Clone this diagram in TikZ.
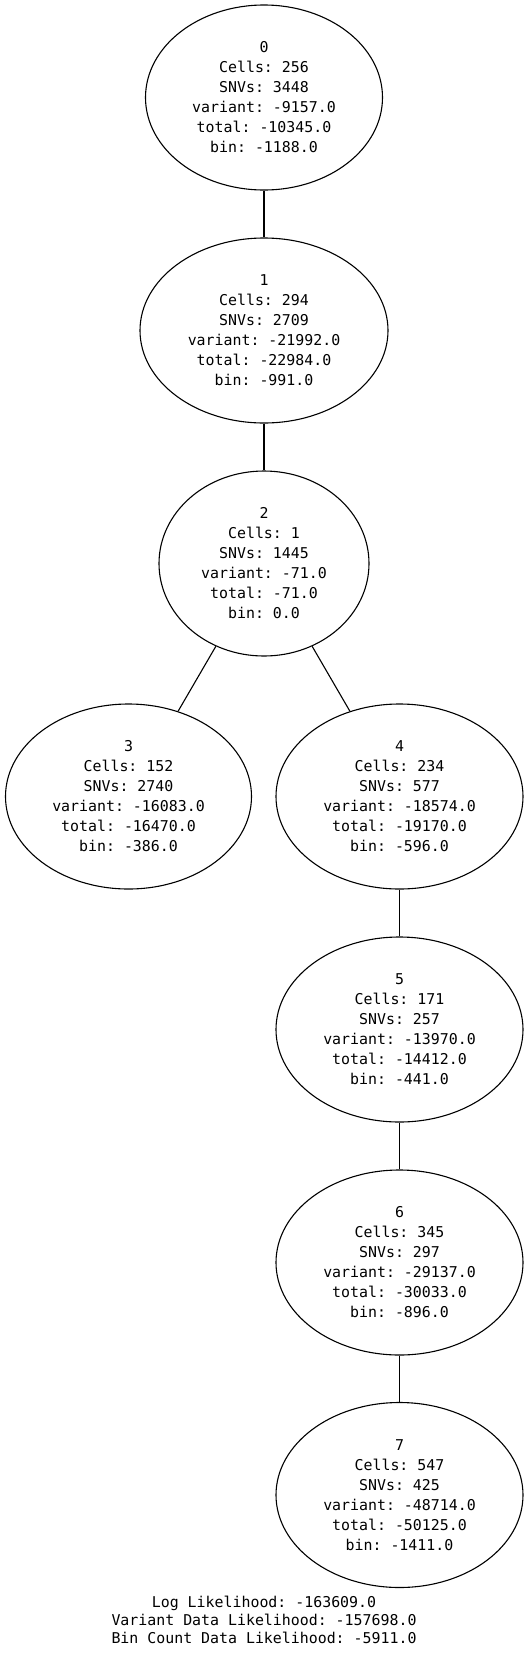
\documentclass[tikz,border=0pt]{standalone}
\usepackage{fontspec}
\setmonofont{DejaVu Sans Mono}
\usetikzlibrary{shapes.geometric}
\tikzset{
  tnode/.style={ellipse, draw, line width=1.1pt, inner sep=0pt, minimum height=185pt, align=center, font=\fontsize{14.9}{20}\selectfont\ttfamily},
  link/.style={line width=1.1pt},
  footer/.style={align=center, inner sep=0pt, font=\fontsize{14.9}{18.3}\selectfont\ttfamily}
}
\begin{document}
\begin{tikzpicture}[x=1pt,y=-1pt]
\useasboundingbox (0,0) rectangle (528,1658);
\node[tnode, minimum width=237pt] (n0) at (264,97.5) {0\\Cells: 256\\SNVs: 3448\\variant: -9157.0\\total: -10345.0\\bin: -1188.0};
\node[tnode, minimum width=248pt] (n1) at (264,330.5) {1\\Cells: 294\\SNVs: 2709\\variant: -21992.0\\total: -22984.0\\bin: -991.0};
\node[tnode, minimum width=210pt] (n2) at (264,563.5) {2\\Cells: 1\\SNVs: 1445\\variant: -71.0\\total: -71.0\\bin: 0.0};
\node[tnode, minimum width=246pt] (n3) at (128.5,796.5) {3\\Cells: 152\\SNVs: 2740\\variant: -16083.0\\total: -16470.0\\bin: -386.0};
\node[tnode, minimum width=247pt] (n4) at (399.5,796.5) {4\\Cells: 234\\SNVs: 577\\variant: -18574.0\\total: -19170.0\\bin: -596.0};
\node[tnode, minimum width=247pt] (n5) at (399.5,1029.5) {5\\Cells: 171\\SNVs: 257\\variant: -13970.0\\total: -14412.0\\bin: -441.0};
\node[tnode, minimum width=247pt] (n6) at (399.5,1262.5) {6\\Cells: 345\\SNVs: 297\\variant: -29137.0\\total: -30033.0\\bin: -896.0};
\node[tnode, minimum width=247pt] (n7) at (399.5,1495) {7\\Cells: 547\\SNVs: 425\\variant: -48714.0\\total: -50125.0\\bin: -1411.0};
\draw[link] (n0) -- (n1);
\draw[link] (n1) -- (n2);
\draw[link] (n2) -- (n3);
\draw[link] (n2) -- (n4);
\draw[link] (n4) -- (n5);
\draw[link] (n5) -- (n6);
\draw[link] (n6) -- (n7);
\node[footer] (ll) at (264,1620) {Log Likelihood: -163609.0\\Variant Data Likelihood: -157698.0\\Bin Count Data Likelihood: -5911.0};
\end{tikzpicture}
\end{document}
